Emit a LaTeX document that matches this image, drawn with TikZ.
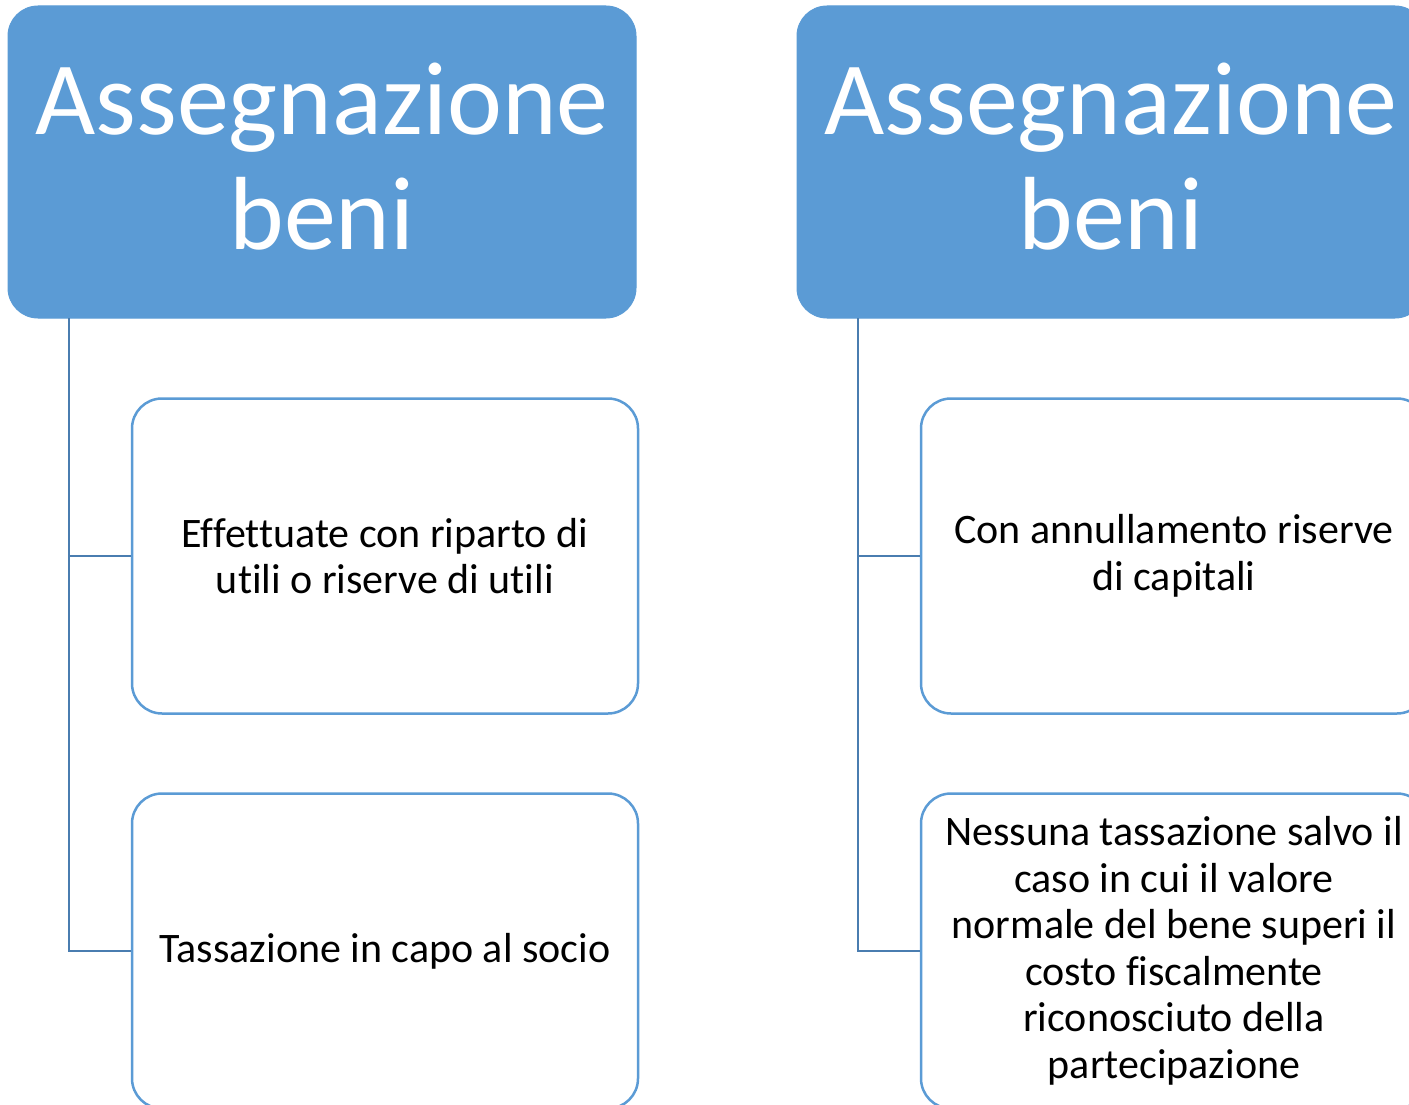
\documentclass[tikz,border=0pt]{standalone}
\usepackage{fontspec}
\setmainfont{Carlito}[Ligatures=NoCommon]
\usepackage{xcolor}
\usepackage{tikz}
\definecolor{officeblue}{HTML}{5B9BD5}
\definecolor{linkblue}{HTML}{4A7DB0}
\begin{document}
\begin{tikzpicture}[x=1pt, y=-1pt,
    hdrbox/.style={fill=officeblue, draw=officeblue, line width=1pt, rounded corners=30pt,
        minimum width=628pt, minimum height=312pt, inner sep=0pt},
    hdrtext/.style={text=white, align=center, inner sep=0pt, font=\fontsize{104}{115}\selectfont},
    leafbox/.style={fill=white, draw=officeblue, line width=2.5pt, rounded corners=30pt,
        minimum width=506pt, minimum height=315pt, inner sep=0pt, align=center,
        font=\fontsize{42}{46.5}\selectfont},
    trunk/.style={draw=linkblue, line width=2.5pt}]
    \useasboundingbox (0,0) rectangle (1409,1105);
    \clip (0,0) rectangle (1409,1105);
    % left column
    \node[hdrbox] (hdrL) at (322,162) {};
    \node[hdrtext] (hdrLtxt) at (322,157) {Assegnazione\\beni};
    \node[leafbox] (effL) at (385,556) {Effettuate con riparto di\\utili o riserve di utili};
    \node[leafbox] (tasL) at (385,951) {Tassazione in capo al socio};
    \coordinate (rootL) at (69,318);
    \draw[trunk] (rootL) |- (effL.west);
    \draw[trunk] (rootL) |- (tasL.west);
    % right column
    \node[hdrbox] (hdrR) at (1111,162) {};
    \node[hdrtext] (hdrRtxt) at (1111,157) {Assegnazione\\beni};
    \node[leafbox] (annR) at (1174,556) {Con annullamento riserve\\di capitali};
    \node[leafbox] (nesR) at (1174,951) {Nessuna tassazione salvo il\\caso in cui il valore\\normale del bene superi il\\costo fiscalmente\\riconosciuto della\\partecipazione};
    \coordinate (rootR) at (858,318);
    \draw[trunk] (rootR) |- (annR.west);
    \draw[trunk] (rootR) |- (nesR.west);
\end{tikzpicture}
\end{document}
